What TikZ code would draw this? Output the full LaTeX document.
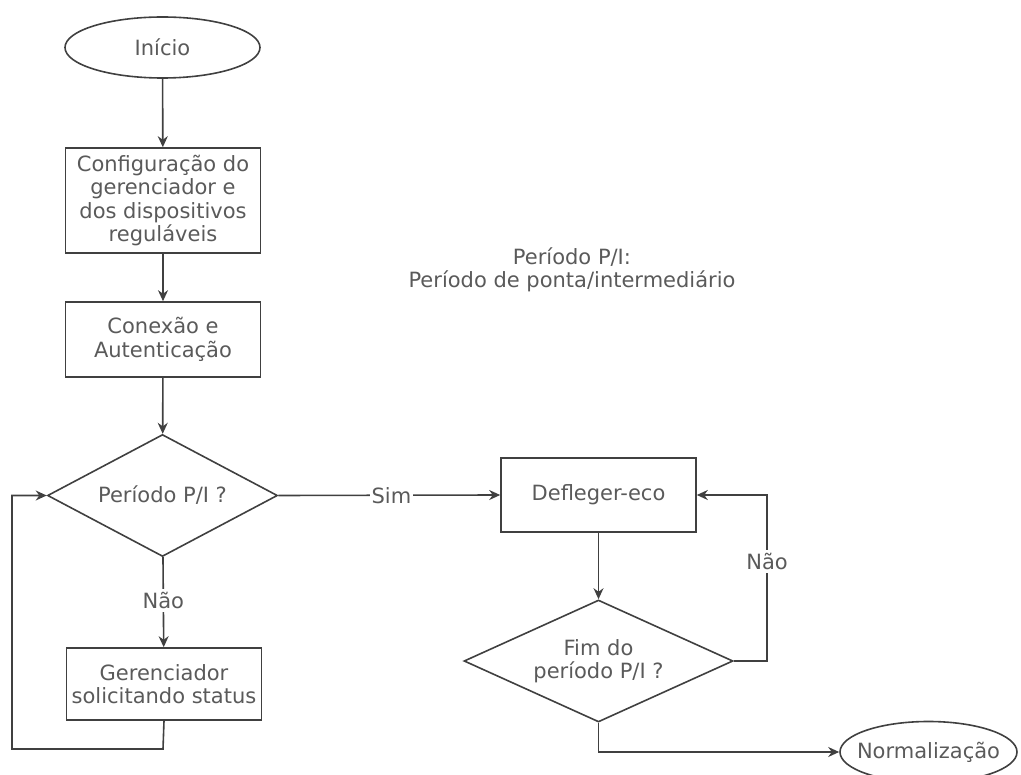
\documentclass[tikz,border=0pt]{standalone}
\usepackage{fontspec}
\setmainfont{DejaVu Sans}
\usetikzlibrary{shapes.geometric,arrows.meta}
\definecolor{txt}{HTML}{5A5A5A}
\definecolor{ln}{HTML}{404040}
\begin{document}
\begin{tikzpicture}[x=1pt,y=-1pt,
  every node/.style={font=\fontsize{21}{23.5}\selectfont, text=txt, align=center, inner sep=0pt},
  proc/.style={draw=ln, line width=1.6pt, rectangle, minimum width=195, minimum height=#1},
  term/.style={draw=ln, line width=1.6pt, ellipse, minimum width=#1, minimum height=61},
  dec/.style={draw=ln, line width=1.6pt, diamond, minimum width=#1, minimum height=122},
  lbl/.style={fill=white, inner xsep=2pt, inner ysep=3pt},
  conn/.style={draw=ln, line width=1.6pt, -{Stealth[length=11pt,width=10pt]}}]
\useasboundingbox (0,0) rectangle (1021,775);
\node[term=195] (ini) at (162.5,47.5) {Início};
\node[proc=105] (cfg) at (163,200.5) {Configuração do\\gerenciador e\\dos dispositivos\\reguláveis};
\node[proc=75] (con) at (163,339.5) {Conexão e\\Autenticação};
\node[dec=230, aspect=1.9] (d1) at (162.5,495.5) {Período P/I ?};
\node[proc=72] (ger) at (164,684) {Gerenciador\\solicitando status};
\node[proc=74] (def) at (598.5,495) {Defleger-eco};
\node[dec=269, aspect=2.2] (d2) at (598.5,661) {Fim do\\período P/I ?};
\node[term=177, inner xsep=-13pt] (nor) at (928.5,752) {Normalização};
\node (note) at (572,270) {Período P/I:\\Período de ponta/intermediário};
\coordinate (lp1) at (163,749);
\coordinate (lp2) at (12,749);
\coordinate (lp3) at (12,495.5);
\coordinate (nr) at (767,661);
\coordinate (nt) at (767,495);
\coordinate (bb) at (598.5,752);
\draw[conn] (ini) -- (cfg);
\draw[conn] (cfg) -- (con);
\draw[conn] (con) -- (d1);
\draw[conn] (d1) -- node[lbl, pos=0.48] {Não} (ger);
\draw[conn] (ger.south) -- (lp1) -- (lp2) -- (lp3) -- (d1.west);
\draw[conn] (d1.east) -- node[lbl, pos=0.51] {Sim} (def.west);
\draw[conn] (def) -- (d2);
\draw[conn] (d2.east) -- (nr) -- node[lbl, pos=0.6] {Não} (nt) -- (def.east);
\draw[conn] (d2.south) -- (bb) -- (nor.west);
\end{tikzpicture}
\end{document}
